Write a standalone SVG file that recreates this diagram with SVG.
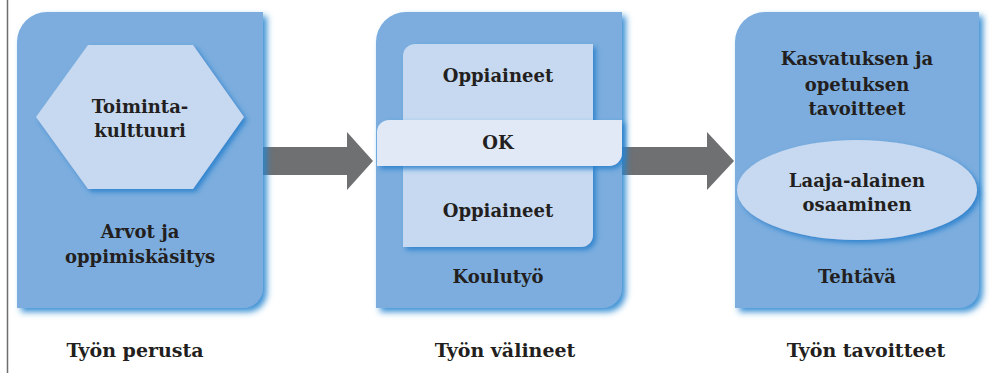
<svg xmlns="http://www.w3.org/2000/svg" width="990" height="373" viewBox="0 0 990 373">
<defs>
<filter id="sh" x="-10%" y="-10%" width="125%" height="125%">
<feDropShadow dx="4" dy="4" stdDeviation="3.2" flood-color="#2a86d0" flood-opacity="0.9"/>
</filter>
<filter id="sh2" x="-10%" y="-10%" width="125%" height="130%">
<feDropShadow dx="3" dy="3" stdDeviation="2.5" flood-color="#2a80cc" flood-opacity="0.9"/>
</filter>
</defs>
<style>
.box{fill:#7badde}
.inner{fill:#c6d9f1}
.ok{fill:#e1e9f6}
.t{font-family:"DejaVu Serif",serif;font-weight:bold;font-size:18px;fill:#231f20;text-anchor:middle}
.lab{font-size:19px}
.arrow{fill:#6f7072}
</style>
<rect width="990" height="373" fill="#ffffff"/>
<line x1="7.5" y1="0" x2="7.5" y2="373" stroke="#6e6e6e" stroke-width="1.5"/>
<g id="connectors">
<polygon class="arrow" points="263,147 347,147 347,132 373,161 347,190 347,175 263,175"/>
<polygon class="arrow" points="622,147 707,147 707,132 734,161 707,190 707,175 622,175"/>
</g>
<g id="node-perusta">
<path class="box" filter="url(#sh)" d="M17,42 A30,30 0 0 1 47,12 H263 V288 A20,20 0 0 1 243,308 H17 Z"/>
<polygon class="inner" filter="url(#sh2)" points="36,117 88,45 193,45 244,117 193,189 88,189"/>
<text class="t" x="140" y="113">Toiminta-</text>
<text class="t" x="140" y="137">kulttuuri</text>
<text class="t" x="140" y="238">Arvot ja</text>
<text class="t" x="140" y="263">oppimiskäsitys</text>
</g>
<g id="node-valineet">
<path class="box" filter="url(#sh)" d="M376,42 A30,30 0 0 1 406,12 H622 V288 A20,20 0 0 1 602,308 H376 Z"/>
<path class="inner" filter="url(#sh2)" d="M403,56 A12,12 0 0 1 415,44 H593 V235 A12,12 0 0 1 581,247 H403 Z"/>
<path class="ok" filter="url(#sh2)" d="M377,132 A12,12 0 0 1 389,120 H622 V153 A13,13 0 0 1 609,166 H377 Z"/>
<text class="t" x="498" y="82">Oppiaineet</text>
<text class="t" x="498" y="149">OK</text>
<text class="t" x="498" y="217">Oppiaineet</text>
<text class="t" x="498" y="283">Koulutyö</text>
</g>
<g id="node-tavoitteet">
<path class="box" filter="url(#sh)" d="M735,42 A30,30 0 0 1 765,12 H979 V288 A20,20 0 0 1 959,308 H735 Z"/>
<text class="t" x="857" y="65">Kasvatuksen ja</text>
<text class="t" x="857" y="91">opetuksen</text>
<text class="t" x="857" y="115">tavoitteet</text>
<ellipse class="inner" filter="url(#sh2)" cx="857" cy="190" rx="120" ry="50"/>
<text class="t" x="857" y="187">Laaja-alainen</text>
<text class="t" x="857" y="211">osaaminen</text>
<text class="t" x="857" y="283">Tehtävä</text>
</g>
<g id="labels">
<text class="t lab" x="135" y="357">Työn perusta</text>
<text class="t lab" x="505" y="357">Työn välineet</text>
<text class="t lab" x="866" y="357">Työn tavoitteet</text>
</g>
</svg>
